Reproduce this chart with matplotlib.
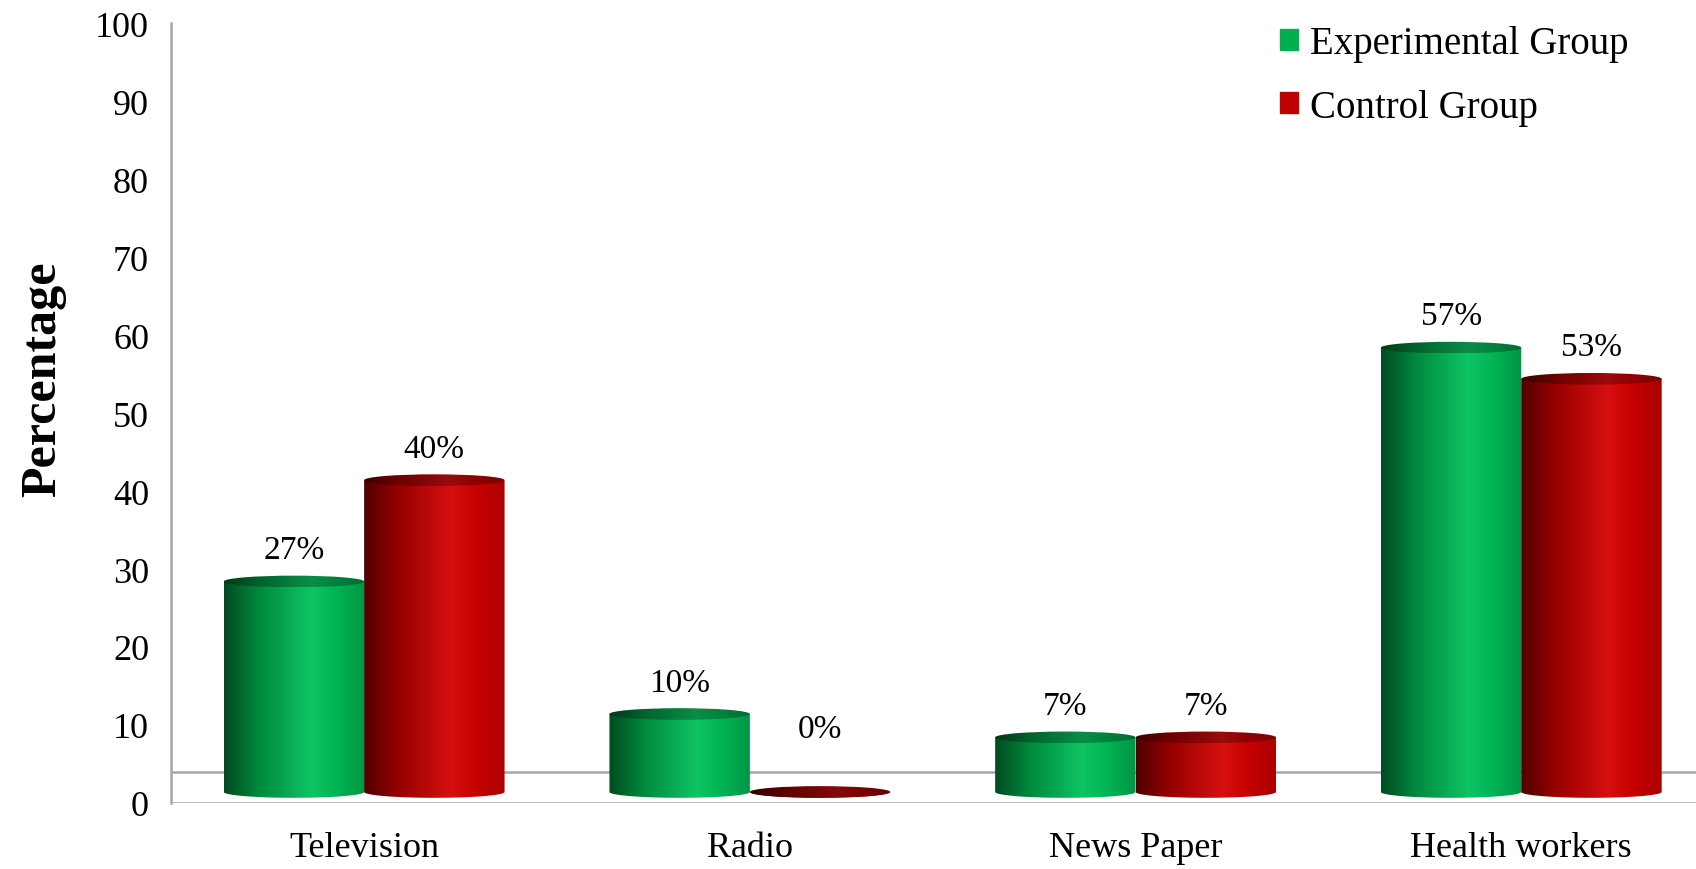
import numpy as np
import matplotlib.pyplot as plt
from matplotlib.patches import Ellipse, PathPatch
from matplotlib.path import Path

categories = ["Television", "Radio", "News Paper", "Health workers"]
experimental = [27, 10, 7, 57]
control = [40, 0, 7, 53]
series_names = ["Experimental Group", "Control Group"]
yticks = list(range(0, 101, 10))

plt.rcParams['font.family'] = ['Liberation Serif', 'DejaVu Serif']

# colour stops across the cylinder face (left -> right)
stops = [0.0, 0.25, 0.62, 0.8, 1.0]
green_stops = [(0, 75, 32), (0, 138, 62), (14, 196, 100), (0, 180, 84), (0, 150, 68)]
red_stops = [(80, 0, 0), (152, 0, 0), (214, 16, 16), (198, 0, 0), (170, 0, 0)]
legend_colors = ["#00b050", "#c00000"]

base = 1.4        # front edge of the 3D floor
floor_back = 3.9  # back edge of the floor
ell_h = 1.5       # ellipse height in data units
bar_w = 0.364


def gradient(stops_rgb, dim=1.0, n=200):
    t = np.linspace(0, 1, n)
    cols = np.array(stops_rgb, dtype=float) / 255.0
    rgb = np.stack([np.interp(t, stops, cols[:, k]) for k in range(3)], axis=-1)
    return np.clip(rgb * dim, 0, 1)[None, :, :]


def cylinder(ax, cx, value, stops_rgb):
    x0, x1 = cx - bar_w / 2, cx + bar_w / 2
    y0, y1 = base, base + value
    th = np.linspace(np.pi, 2 * np.pi, 60)
    arc = np.column_stack([cx + bar_w / 2 * np.cos(th), y0 + ell_h / 2 * np.sin(th)])
    verts = np.vstack([[[x0, y1]], arc, [[x1, y1], [x0, y1]]])
    body = PathPatch(Path(verts, closed=True), facecolor='none', edgecolor='none')
    ax.add_patch(body)
    img = ax.imshow(gradient(stops_rgb), extent=[x0, x1, y0 - ell_h / 2, y1],
                    aspect='auto', zorder=3, interpolation='bilinear')
    img.set_clip_path(body)
    top = Ellipse((cx, y1), bar_w, ell_h, facecolor='none', edgecolor='none')
    ax.add_patch(top)
    dim = 0.72 if value > 0 else 0.62
    timg = ax.imshow(gradient(stops_rgb, dim=dim), extent=[x0, x1, y1 - ell_h / 2, y1 + ell_h / 2],
                     aspect='auto', zorder=4, interpolation='bilinear')
    timg.set_clip_path(top)
    label_y = base + max(value, 4) + 2.1
    ax.text(cx, label_y, f"{value}%", ha='center', va='bottom', fontsize=24, zorder=5)


fig = plt.figure(figsize=(16.96, 8.7), dpi=100)
ax = fig.add_axes([0.101, 0.076, 0.899, 0.896])

x = np.arange(len(categories))
for i, cx in enumerate(x):
    cylinder(ax, cx - bar_w / 2, experimental[i], green_stops)
    cylinder(ax, cx + bar_w / 2, control[i], red_stops)

# floor edges
ax.axhline(floor_back, color='#a6a6a6', lw=1.8, zorder=1)
ax.axhline(0, color='#a6a6a6', lw=1.8, zorder=1)

ax.set_xlim(-0.5, 3.453)
ax.set_ylim(0, 100)
ax.set_yticks(yticks)
ax.set_xticks(x)
ax.set_xticklabels(categories)
ax.tick_params(axis='both', length=0, labelsize=26)
ax.tick_params(axis='y', pad=16)
ax.tick_params(axis='x', pad=20)
for s in ['top', 'right', 'bottom']:
    ax.spines[s].set_visible(False)
ax.spines['left'].set_color('#a6a6a6')
ax.spines['left'].set_linewidth(1.8)

fig.text(0.0255, 0.564, "Percentage", rotation=90, ha='center', va='center',
         fontsize=36, fontweight='bold')

handles = [plt.Rectangle((0, 0), 1, 1, color=c) for c in legend_colors]
fig.legend(handles, series_names, loc='upper left', bbox_to_anchor=(0.755, 0.970),
           frameon=False, fontsize=28, handlelength=0.45, handleheight=0.45,
           handletextpad=0.3, labelspacing=0.68, borderpad=0, borderaxespad=0)

fig.savefig("out.png", dpi=100)
